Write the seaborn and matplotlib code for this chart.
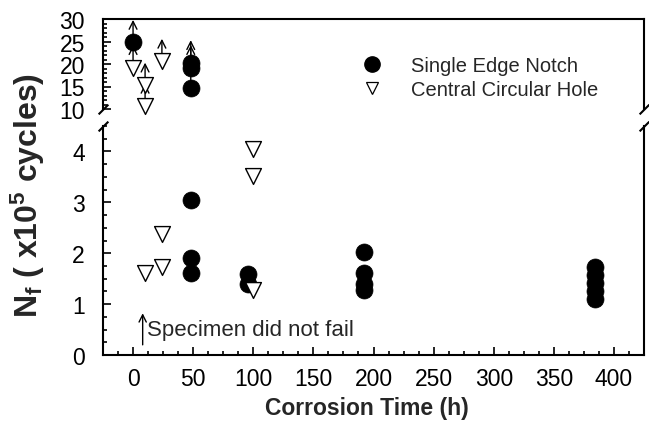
import matplotlib
matplotlib.use("Agg")
import matplotlib.pyplot as plt
from matplotlib.ticker import MultipleLocator
from matplotlib.lines import Line2D
import seaborn as sns
import pandas as pd

# ---- data ----
# top (broken) panel: runout specimens (did not fail), N_f in 1e5 cycles
top_sen_x = [0, 48, 48, 48]
top_sen_y = [24.8, 20.3, 19.2, 14.7]
top_cch_x = [0, 10, 10, 24]
top_cch_y = [19.2, 15.3, 10.6, 20.6]

# bottom panel: failed specimens
bot_sen_x = [48, 48, 48, 96, 96, 192, 192, 192, 192, 384, 384, 384, 384, 384]
bot_sen_y = [3.05, 1.90, 1.62, 1.59, 1.40, 2.02, 1.62, 1.40, 1.27, 1.72, 1.58, 1.42, 1.25, 1.10]
bot_cch_x = [10, 24, 24, 100, 100, 100]
bot_cch_y = [1.62, 2.38, 1.72, 4.04, 3.52, 1.27]

x_ticks = [0, 50, 100, 150, 200, 250, 300, 350, 400]
top_ticks = [10, 15, 20, 25, 30]
bot_ticks = [0, 1, 2, 3, 4]

series_names = ["Single Edge Notch", "Central Circular Hole"]
xlabel = "Corrosion Time (h)"
note = "Specimen did not fail"

sns.set_style("ticks")
plt.rcParams["font.family"] = ["Liberation Sans", "DejaVu Sans"]
plt.rcParams["mathtext.fontset"] = "custom"
plt.rcParams["mathtext.rm"] = "Liberation Sans"
plt.rcParams["mathtext.bf"] = "Liberation Sans:bold"
plt.rcParams["mathtext.it"] = "Liberation Sans:italic"

W, H = 649, 435
fig = plt.figure(figsize=(W / 100, H / 100), dpi=100)
left, right = 103 / W, 644 / W
ax_top = fig.add_axes([left, (H - 110) / H, right - left, 90 / H])
ax_bot = fig.add_axes([left, (H - 356) / H, right - left, 229 / H])

df_top = pd.DataFrame({
    "x": top_sen_x + top_cch_x,
    "y": top_sen_y + top_cch_y,
    "s": [series_names[0]] * len(top_sen_x) + [series_names[1]] * len(top_cch_x),
})
df_bot = pd.DataFrame({
    "x": bot_sen_x + bot_cch_x,
    "y": bot_sen_y + bot_cch_y,
    "s": [series_names[0]] * len(bot_sen_x) + [series_names[1]] * len(bot_cch_x),
})

# arrows for runouts (drawn under markers)
for xv, yv in zip(df_top["x"], df_top["y"]):
    ax_top.annotate("", xy=(xv, yv + 5.0), xytext=(xv, yv + 0.5),
                    arrowprops=dict(arrowstyle="->", color="black", lw=1.0,
                                    shrinkA=0, shrinkB=0, mutation_scale=14),
                    annotation_clip=False, zorder=1)

for ax, df in [(ax_top, df_top), (ax_bot, df_bot)]:
    sub = df[df["s"] == series_names[0]]
    sns.scatterplot(data=sub, x="x", y="y", ax=ax, marker="o", s=150,
                    color="black", edgecolor="black", linewidth=0.5,
                    legend=False, clip_on=False, zorder=3)
    sub = df[df["s"] == series_names[1]]
    sns.scatterplot(data=sub, x="x", y="y", ax=ax, marker="v", s=130,
                    color="white", edgecolor="black", linewidth=1.0,
                    legend=False, clip_on=False, zorder=3)

for ax in (ax_top, ax_bot):
    ax.set_xlim(-25, 425)
    ax.set_xlabel("")
    ax.set_ylabel("")
    for sp in ax.spines.values():
        sp.set_linewidth(1.5)
        sp.set_color("black")
    ax.tick_params(which="both", direction="in", color="black", width=1.2,
                   labelsize=16.5, labelcolor="black", right=False, top=False)
    ax.tick_params(which="major", length=6)
    ax.tick_params(which="minor", length=3)

ax_top.set_ylim(10, 30)
ax_top.set_yticks(top_ticks)
ax_top.yaxis.set_minor_locator(MultipleLocator(1))
ax_top.spines["bottom"].set_visible(False)
ax_top.tick_params(axis="x", which="both", bottom=False, labelbottom=False)
ax_top.tick_params(axis="y", pad=13)

ax_bot.set_ylim(0, 4.5)
ax_bot.set_yticks(bot_ticks)
ax_bot.yaxis.set_minor_locator(MultipleLocator(0.25))
ax_bot.set_xticks(x_ticks)
ax_bot.xaxis.set_minor_locator(MultipleLocator(12.5))
ax_bot.spines["top"].set_visible(False)
ax_bot.tick_params(axis="y", pad=13)
ax_bot.tick_params(axis="x", pad=9)
ax_bot.set_xlabel(xlabel, fontsize=16.5, fontweight="bold", labelpad=5)
ax_bot.xaxis.set_label_coords(0.487, -0.18)

# break marks
kw = dict(marker=[(-1, -1), (1, 1)], markersize=7, linestyle="none",
          color="black", mec="black", mew=1.5, clip_on=False)
ax_top.plot([0, 1], [0, 0], transform=ax_top.transAxes, **kw)
ax_bot.plot([0, 1], [1, 1], transform=ax_bot.transAxes, **kw)

# "Specimen did not fail" note
ax_bot.annotate("", xy=(8, 0.82), xytext=(8, 0.2),
                arrowprops=dict(arrowstyle="->", color="black", lw=1.0,
                                shrinkA=0, shrinkB=0, mutation_scale=13))
ax_bot.text(12, 0.5, note, fontsize=16, va="center", ha="left")

# legend
handles = [
    Line2D([], [], marker="o", linestyle="none", color="black", markersize=11),
    Line2D([], [], marker="v", linestyle="none", markerfacecolor="white",
           markeredgecolor="black", markersize=9, markeredgewidth=0.9),
]
fig.legend(handles, series_names, loc="upper left",
           bbox_to_anchor=(347 / W, 1 - 47 / H), frameon=False, fontsize=14.5,
           handletextpad=1.2, labelspacing=0.25, borderpad=0, handlelength=1.5)

# y label spanning both panels
fig.text(28 / W, 1 - 195 / H, r"$\mathbf{N_f}$ ( x10$^{\mathbf{5}}$ cycles)",
         rotation=90, fontsize=23, fontweight="bold", ha="center", va="center")

fig.savefig("out.png", dpi=100)
